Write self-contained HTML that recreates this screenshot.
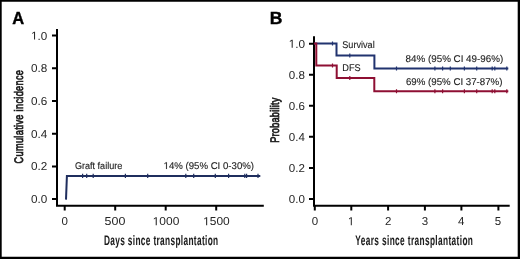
<!DOCTYPE html>
<html><head><meta charset="utf-8">
<style>
html,body{margin:0;padding:0;background:#fff;}
body{width:520px;height:259px;overflow:hidden;}
svg{display:block;will-change:transform;}
text{font-family:"Liberation Sans",sans-serif;text-rendering:geometricPrecision;}
.tl{font-size:11.5px;fill:#262626;stroke:none;}
.an{font-size:9.8px;fill:#222;stroke:#222;stroke-width:0.12px;}
.ti{font-size:14px;fill:#1a1a1a;stroke:#1a1a1a;stroke-width:0.5px;}
.tx{font-size:13.8px;stroke-width:0.05px;font-weight:bold;}
.ty{font-size:12.4px;stroke-width:0.7px;font-weight:normal;}
.ax{stroke:#000;stroke-width:2;fill:none;}
.cb{stroke:#1f2e5e;stroke-width:2;fill:none;}
.cB{stroke:#21336f;stroke-width:2;fill:none;}
.cr{stroke:#8e0f33;stroke-width:2;fill:none;}
.h1{fill:none;stroke:none;}
</style></head>
<body>
<svg width="520" height="259" viewBox="0 0 520 259">
<rect x="0" y="0" width="520" height="259" fill="#fff"/>
<path fill="#000" fill-rule="evenodd" d="M0 0H520V259H0Z M1.7 1.7V256.7H517.7V1.7Z"/>

<!-- Panel A -->
<text x="12.2" y="24" style="font-size:17.5px;font-weight:bold;fill:#000;stroke:#000;stroke-width:0.4px" textLength="11.9" lengthAdjust="spacingAndGlyphs">A</text>
<path class="ax" d="M57 29 V205.7 H263.8"/>
<path class="ax" d="M52 35.6 H56 M52 68.3 H56 M52 101 H56 M52 133.7 H56 M52 166.4 H56 M52 199 H56"/>
<path class="ax" d="M64.7 205.7 V210.6 M115.2 205.7 V210.6 M165.7 205.7 V210.6 M216.2 205.7 V210.6"/>
<g class="tl" text-anchor="end" lengthAdjust="spacingAndGlyphs">
<text x="47.3" y="39.6" textLength="16.2" lengthAdjust="spacingAndGlyphs"><tspan class="h1">1</tspan>.0</text>
<text x="47.3" y="72.3" textLength="16.3" lengthAdjust="spacingAndGlyphs">0.8</text>
<text x="47.3" y="105" textLength="16.3" lengthAdjust="spacingAndGlyphs">0.6</text>
<text x="47.3" y="137.7" textLength="16.3" lengthAdjust="spacingAndGlyphs">0.4</text>
<text x="47.3" y="170.4" textLength="16.3" lengthAdjust="spacingAndGlyphs">0.2</text>
<text x="47.3" y="203" textLength="16.3" lengthAdjust="spacingAndGlyphs">0.0</text>
</g>
<g class="tl" text-anchor="middle">
<text x="64.6" y="225.2">0</text>
<text x="115" y="225.2" textLength="20.8" lengthAdjust="spacingAndGlyphs">500</text>
<text x="166" y="225.2" textLength="26.6" lengthAdjust="spacingAndGlyphs"><tspan class="h1">1</tspan>000</text>
<text x="216.4" y="225.2" textLength="26.6" lengthAdjust="spacingAndGlyphs"><tspan class="h1">1</tspan>500</text>
</g>
<g transform="translate(104 245) scale(0.6 1)"><text class="ti tx" x="0" y="0" textLength="190.3" lengthAdjust="spacing">Days since transplantation</text></g>
<g transform="translate(23.3 163.4) rotate(-90) scale(0.74 1)"><text class="ti ty" x="0" y="0" textLength="126.2" lengthAdjust="spacing">Cumulative incidence</text></g>

<path class="cb" d="M66 199.6 L66.9 176 H260.3"/>
<path stroke="#1f2e5e" stroke-width="1.2" fill="none" d="M82.6 173.8V178.1 M86.7 173.8V178.1 M93.2 173.8V178.1 M125.4 173.8V178.1 M147.7 173.8V178.1 M185.8 173.8V178.1 M193.7 173.8V178.1 M215.3 173.8V178.1 M228.6 173.8V178.1 M244.8 173.8V178.1 M246.6 173.8V178.1 M258 173.8V178.1"/>
<text class="an" x="74.9" y="168.5" textLength="47.4" lengthAdjust="spacingAndGlyphs">Graft failure</text>
<text class="an" x="163.6" y="169" textLength="90.4" lengthAdjust="spacingAndGlyphs"><tspan class="h1">1</tspan>4% (95% CI 0-30%)</text>

<!-- Panel B -->
<text x="269.7" y="24.2" style="font-size:17.5px;font-weight:bold;fill:#000;stroke:#000;stroke-width:0.4px">B</text>
<path class="ax" d="M314 36.2 V205.7 H509.7"/>
<path class="ax" d="M309 43.7 H313 M309 74.7 H313 M309 105.8 H313 M309 136.8 H313 M309 167.9 H313 M309 198.9 H313"/>
<path class="ax" d="M314.8 205.7 V210.6 M351.3 205.7 V210.6 M388.1 205.7 V210.6 M424.9 205.7 V210.6 M461.4 205.7 V210.6 M498.4 205.7 V210.6"/>
<g class="tl" text-anchor="end">
<text x="305.1" y="47.7" textLength="16.4" lengthAdjust="spacingAndGlyphs"><tspan class="h1">1</tspan>.0</text>
<text x="304.9" y="78.7" textLength="16.1" lengthAdjust="spacingAndGlyphs">0.8</text>
<text x="304.9" y="109.8" textLength="16.1" lengthAdjust="spacingAndGlyphs">0.6</text>
<text x="304.9" y="140.8" textLength="16.1" lengthAdjust="spacingAndGlyphs">0.4</text>
<text x="304.9" y="171.9" textLength="16.1" lengthAdjust="spacingAndGlyphs">0.2</text>
<text x="304.9" y="202.9" textLength="16.1" lengthAdjust="spacingAndGlyphs">0.0</text>
</g>
<g class="tl" text-anchor="middle">
<text x="315" y="225.2">0</text>
<text x="351.1" y="225.2"><tspan class="h1">1</tspan></text>
<text x="388.2" y="225.2">2</text>
<text x="425" y="225.2">3</text>
<text x="461.3" y="225.2">4</text>
<text x="498" y="225.2">5</text>
</g>
<g transform="translate(355.3 245) scale(0.6 1)"><text class="ti tx" x="0" y="0" textLength="196.0" lengthAdjust="spacing">Years since transplantation</text></g>
<g transform="translate(279.1 142.8) rotate(-90) scale(0.74 1)"><text class="ti ty" x="0" y="0" textLength="61.1" lengthAdjust="spacing">Probability</text></g>

<path class="cB" d="M314 43.6 H336.5 V55.5 H374.4 V68.4 H508.3"/>
<path class="cr" d="M314 43.6 H316.3 V65.4 H336.7 V77.9 H374.3 V91.3 H508.3"/>
<path stroke="#21336f" stroke-width="1.2" fill="none" d="M332.5 41.6V45.6 M349.8 53.5V57.5 M396.5 66.4V70.4 M434.9 66.4V70.4 M442.6 66.4V70.4 M450.3 66.4V70.4 M464.4 66.4V70.4 M476.7 66.4V70.4 M492.2 66.4V70.4 M494.8 66.4V70.4 M506.8 66.4V70.4"/>
<path stroke="#8e0f33" stroke-width="1.2" fill="none" d="M332.5 63.4V67.4 M349.8 75.9V79.9 M396.5 89.3V93.3 M434.9 89.3V93.3 M442.6 89.3V93.3 M464.4 89.3V93.3 M476.7 89.3V93.3 M492.2 89.3V93.3 M494.8 89.3V93.3 M506.8 89.3V93.3"/>
<text class="an" x="342.3" y="47.8" textLength="32.4" lengthAdjust="spacingAndGlyphs">Survival</text>
<text class="an" x="342.3" y="71" textLength="18.4" lengthAdjust="spacingAndGlyphs">DFS</text>
<text class="an" x="405.6" y="62.2" textLength="97.6" lengthAdjust="spacingAndGlyphs">84% (95% CI 49-96%)</text>
<text class="an" x="405.9" y="85.2" textLength="96.6" lengthAdjust="spacingAndGlyphs">69% (95% CI 37-87%)</text>
<g>
<path d="M34.03 39.60 L34.03 32.65 L32.22 33.93 L32.22 32.97 L34.12 31.69 L35.06 31.69 L35.06 39.60 Z" fill="rgb(38, 38, 38)" stroke="none" stroke-width="1px"/>
<path d="M155.71 225.20 L155.71 218.25 L153.85 219.53 L153.85 218.57 L155.80 217.29 L156.77 217.29 L156.77 225.20 Z" fill="rgb(38, 38, 38)" stroke="none" stroke-width="1px"/>
<path d="M206.11 225.20 L206.11 218.25 L204.25 219.53 L204.25 218.57 L206.20 217.29 L207.17 217.29 L207.17 225.20 Z" fill="rgb(38, 38, 38)" stroke="none" stroke-width="1px"/>
<path d="M166.02 169.00 L166.02 163.08 L164.53 164.17 L164.53 163.35 L166.09 162.26 L166.87 162.26 L166.87 169.00 Z" fill="rgb(34, 34, 34)" stroke="rgb(34, 34, 34)" stroke-width="0.12px"/>
<path d="M291.67 47.70 L291.67 40.75 L289.84 42.03 L289.84 41.07 L291.76 39.79 L292.71 39.79 L292.71 47.70 Z" fill="rgb(38, 38, 38)" stroke="none" stroke-width="1px"/>
<path d="M350.79 225.20 L350.79 218.25 L349.00 219.53 L349.00 218.57 L350.88 217.29 L351.81 217.29 L351.81 225.20 Z" fill="rgb(38, 38, 38)" stroke="none" stroke-width="1px"/>
</g>
</svg>
</body></html>
